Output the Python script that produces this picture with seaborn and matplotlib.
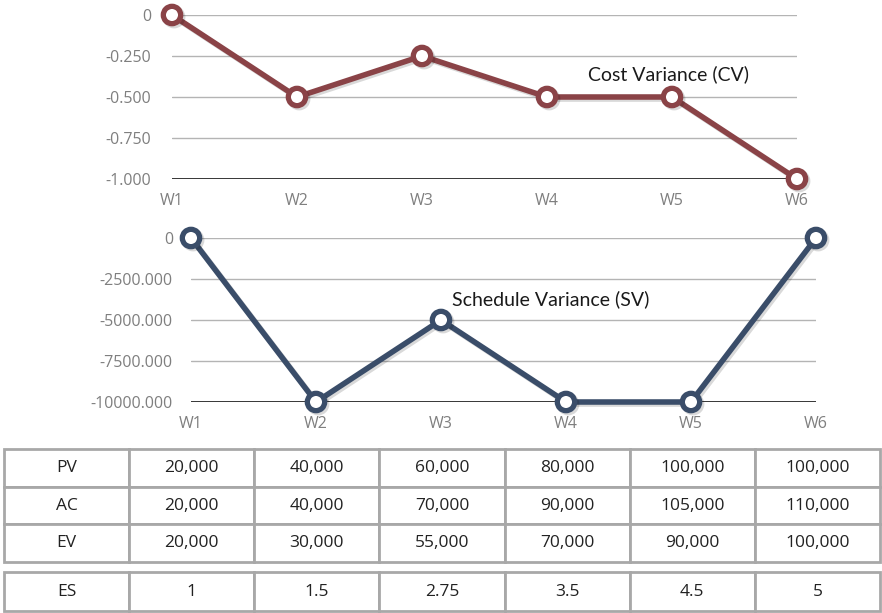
import matplotlib
matplotlib.use("Agg")
import matplotlib.pyplot as plt
import matplotlib.patheffects as pe
from matplotlib.ticker import FuncFormatter
import seaborn as sns
import pandas as pd

weeks = ["W1", "W2", "W3", "W4", "W5", "W6"]
cost_variance = [0, -0.5, -0.25, -0.5, -0.5, -1.0]
schedule_variance = [0, -10000, -5000, -10000, -10000, 0]
cv_ticks = [0, -0.25, -0.5, -0.75, -1.0]
sv_ticks = [0, -2500, -5000, -7500, -10000]

row_labels = ["PV", "AC", "EV"]
pv_values = ["20,000", "40,000", "60,000", "80,000", "100,000", "100,000"]
ac_values = ["20,000", "40,000", "70,000", "90,000", "105,000", "110,000"]
ev_values = ["20,000", "30,000", "55,000", "70,000", "90,000", "100,000"]
es_label = "ES"
es_values = ["1", "1.5", "2.75", "3.5", "4.5", "5"]

CV_COLOR = "#8a4347"
SV_COLOR = "#3a4d69"
GRID = "#b4b4b4"
TICK = "#7f7f7f"

sns.set_theme(style="white")
plt.rcParams["font.family"] = ["Open Sans", "DejaVu Sans"]

W, H = 882, 613
fig = plt.figure(figsize=(W / 100, H / 100), dpi=100)


def px_axes(x0, y0, x1, y1):
    return fig.add_axes([x0 / W, 1 - y1 / H, (x1 - x0) / W, (y1 - y0) / H])


def fmt(v, _pos):
    return "0" if v == 0 else f"{v:.3f}"


def variance_panel(ax, values, ticks, color, title, title_xy, ypad):
    df = pd.DataFrame({"week": range(len(weeks)), "value": values})
    shadow = [pe.SimpleLineShadow(offset=(1.5, -1.5), shadow_color="#000000", alpha=0.15), pe.Normal()]
    sns.lineplot(data=df, x="week", y="value", ax=ax, color=color, linewidth=4,
                 marker="o", markersize=12.5, markerfacecolor="white",
                 markeredgecolor=color, markeredgewidth=3.8, clip_on=False,
                 zorder=5, path_effects=shadow)
    ax.set_xlim(0, len(weeks) - 1)
    ax.set_ylim(min(ticks), max(ticks))
    ax.set_yticks(ticks)
    ax.yaxis.set_major_formatter(FuncFormatter(fmt))
    ax.set_xticks(range(len(weeks)))
    ax.set_xticklabels(weeks)
    for t in ticks:
        ax.axhline(t, color="black" if t == min(ticks) else GRID,
                   linewidth=1.1 if t == min(ticks) else 1.0, zorder=1)
    for s in ax.spines.values():
        s.set_visible(False)
    ax.tick_params(axis="y", length=0, pad=ypad, labelsize=11.5, labelcolor=TICK)
    ax.tick_params(axis="x", length=0, pad=10, labelsize=11.5, labelcolor=TICK)
    ax.set_xlabel("")
    ax.set_ylabel("")
    ax.patch.set_alpha(0)
    ax.text(title_xy[0], title_xy[1], title, ha="center", va="center",
            fontsize=14, color="#1a1a1a", family=["Lato", "DejaVu Sans"], zorder=6)


ax1 = px_axes(172, 15, 797, 179)
variance_panel(ax1, cost_variance, cv_ticks, CV_COLOR, "Cost Variance (CV)", (3.97, -0.36), 15)

ax2 = px_axes(191, 238, 816, 402)
variance_panel(ax2, schedule_variance, sv_ticks, SV_COLOR, "Schedule Variance (SV)", (2.88, -3720), 13)

# Earned-value table
tab_ax = px_axes(4, 449, 880, 611)
tab_ax.set_axis_off()
total_h = 611 - 449
main_h = (562 - 449) / total_h
es_h = (611 - 572) / total_h

cells_main = [[lab] + vals for lab, vals in zip(row_labels, [pv_values, ac_values, ev_values])]
cells_es = [[es_label] + es_values]

for cells, y0, h in [(cells_main, 1 - main_h, main_h), (cells_es, 0, es_h)]:
    tb = tab_ax.table(cellText=cells, cellLoc="center", bbox=[0, y0, 1, h])
    tb.auto_set_font_size(False)
    for (r, c), cell in tb.get_celld().items():
        cell.set_edgecolor("#a8a8a8")
        cell.set_linewidth(2.0)
        cell.set_facecolor("white")
        cell.get_text().set_fontsize(12.5)
        cell.get_text().set_color("#222222")
        cell.get_text().set_family(["Open Sans", "DejaVu Sans"])

fig.savefig("out.png", dpi=100)
